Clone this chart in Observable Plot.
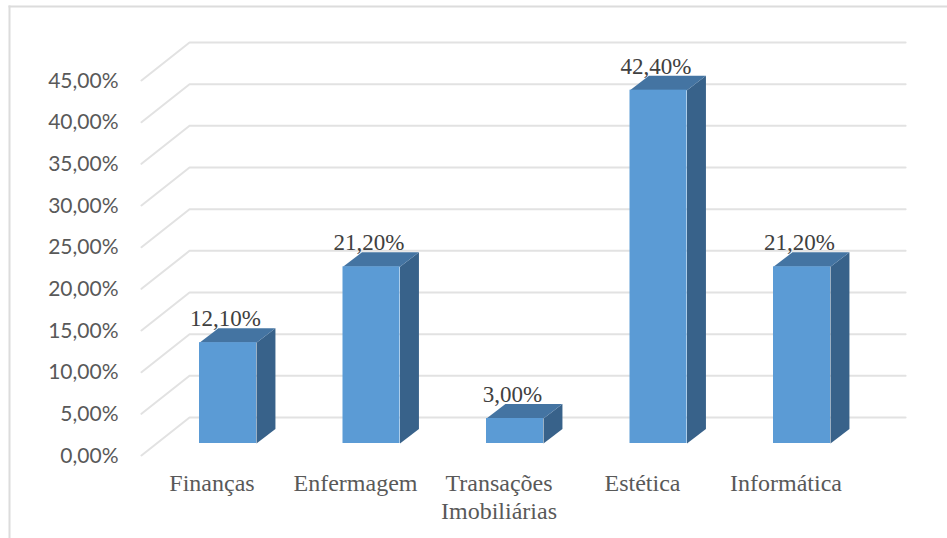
<!DOCTYPE html>
<html lang="pt">
<head>
<meta charset="utf-8">
<script src="https://cdn.jsdelivr.net/npm/d3@7"></script>
<script src="https://cdn.jsdelivr.net/npm/@observablehq/plot@0.6"></script>
<style>
  html, body { margin: 0; padding: 0; background: #fff; }
  svg { display: block; }
</style>
</head>
<body>
<div id="chart"></div>
<script>
// Cursos e respectivas porcentagens
const categories = ["Finanças", "Enfermagem", "Transações\nImobiliárias", "Estética", "Informática"];
const percentages = [12.1, 21.2, 3.0, 42.4, 21.2];
const yTicks = [0, 5, 10, 15, 20, 25, 30, 35, 40, 45];

const pct = v => v.toFixed(2).replace(".", ",") + "%";

// Oblique projection of the 3-D column chart, in scale units
const barHalf = 0.1986;     // half of a column's front face (categories)
const barDepthX = 0.132;    // column depth along x (categories)
const barDepthY = 1.74;     // column depth along y (percent)
const wallFront = {x: -0.603, dy: -1.44};  // near edge of the floor
const wallBack = {x: -0.268, dy: 3.12};    // far edge of the floor, where the wall starts
const wallRight = 4.722;                   // right end of the wall

const bars = percentages.map((v, i) => ({i, v, category: categories[i]}));

// Gridlines run across the floor and then along the back wall
const gridPoints = yTicks.flatMap(t => [
  {t, x: wallFront.x, y: t + wallFront.dy},
  {t, x: wallBack.x, y: t + wallBack.dy},
  {t, x: wallRight, y: t + wallBack.dy}
]);

// Right-hand face and top face of each column
const sideFaces = bars.flatMap(({i, v}) => [
  {i, x: i + barHalf, y: 0},
  {i, x: i + barHalf + barDepthX, y: barDepthY},
  {i, x: i + barHalf + barDepthX, y: v + barDepthY},
  {i, x: i + barHalf, y: v}
]);
const topFaces = bars.flatMap(({i, v}) => [
  {i, x: i - barHalf, y: v},
  {i, x: i + barHalf, y: v},
  {i, x: i + barHalf + barDepthX, y: v + barDepthY},
  {i, x: i - barHalf + barDepthX, y: v + barDepthY}
]);

const chart = Plot.plot({
  width: 947,
  height: 538,
  marginTop: 6,
  marginRight: 0,
  marginBottom: 0,
  marginLeft: 9,
  style: {background: "#fff", overflow: "visible"},
  x: {domain: [0, 4], range: [227.5, 801.5]},
  y: {domain: [0, 45], range: [443, 68]},
  marks: [
    // Chart-area border: only the top and left sides are in view
    Plot.frame({anchor: "top", stroke: "#dcdcdc", strokeWidth: 2}),
    Plot.frame({anchor: "left", stroke: "#dcdcdc", strokeWidth: 2}),

    Plot.line(gridPoints, {x: "x", y: "y", z: "t", stroke: "#e2e2e2", strokeWidth: 2, curve: "linear"}),

    Plot.axisY({
      ticks: yTicks,
      tickFormat: pct,
      tickSize: 0,
      tickPadding: 0,
      dx: 109,
      dy: 12.5,
      label: null,
      fontFamily: "Lato",
      fontSize: 21,
      color: "#595959"
    }),
    Plot.axisX({
      ticks: [0, 1, 2, 3, 4],
      tickFormat: i => categories[i],
      tickSize: 0,
      tickPadding: 0,
      dx: -16,
      dy: -67,
      lineHeight: 1.15,
      label: null,
      fontFamily: "Liberation Serif",
      fontSize: 24,
      color: "#595959"
    }),

    Plot.line(sideFaces, {x: "x", y: "y", z: "i", fill: "#38628a", stroke: null, curve: "linear"}),
    Plot.line(topFaces, {x: "x", y: "y", z: "i", fill: "#4474a2", stroke: null, curve: "linear"}),
    Plot.rect(bars, {
      x1: d => d.i - barHalf,
      x2: d => d.i + barHalf,
      y1: 0,
      y2: "v",
      fill: "#5b9bd5"
    }),

    Plot.text(bars, {
      x: "i",
      y: "v",
      text: d => pct(d.v),
      dx: -2.5,
      dy: -24,
      fontFamily: "Liberation Serif",
      fontSize: 23,
      fill: "#404040"
    })
  ]
});

document.getElementById("chart").append(chart);
</script>
</body>
</html>
